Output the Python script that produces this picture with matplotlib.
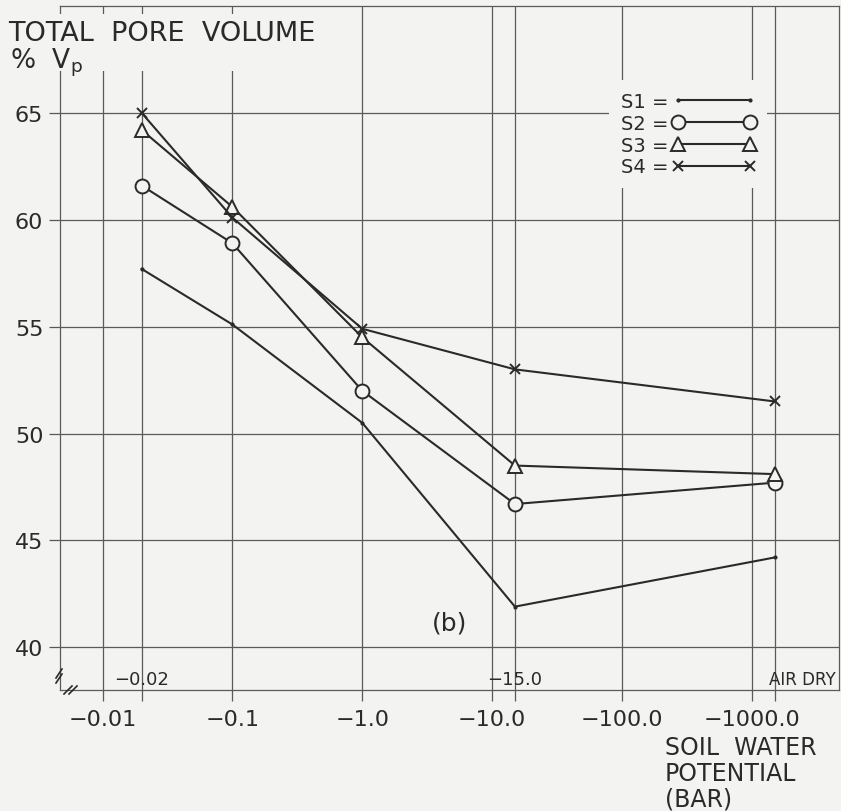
import matplotlib
matplotlib.use("Agg")
import matplotlib.pyplot as plt
from matplotlib.lines import Line2D
from matplotlib.patches import Rectangle

# ---- data ----
potential = [0.02, 0.1, 1.0, 15.0, 1500.0]   # |soil water potential| (bar); last = air dry
s1 = [57.7, 55.1, 50.5, 41.9, 44.2]
s2 = [61.6, 58.9, 52.0, 46.7, 47.7]
s3 = [64.2, 60.6, 54.5, 48.5, 48.1]
s4 = [65.0, 60.1, 54.9, 53.0, 51.5]
series_labels = ["S1 =", "S2 =", "S3 =", "S4 ="]
major_x = [0.01, 0.1, 1.0, 10.0, 100.0, 1000.0]
major_x_labels = ["\u22120.01", "\u22120.1", "\u22121.0", "\u221210.0", "\u2212100.0", "\u22121000.0"]
y_ticks = [40, 45, 50, 55, 60, 65]

BG = "#f3f3f1"
INK = "#2a2a2a"
GRID = "#5a5a5a"

plt.rcParams['font.family'] = ['DejaVu Sans']
W, H = 841, 812
fig = plt.figure(figsize=(W / 100, H / 100), dpi=100, facecolor=BG)
ax = fig.add_axes([60 / W, 1 - 691 / H, (839 - 60) / W, (691 - 7) / H])
ax.set_facecolor(BG)

ax.set_xscale('log')
ax.set_xlim(0.0047, 4700)
ax.set_ylim(38.0, 70.0)

ax.set_xticks(major_x)
ax.set_xticklabels(major_x_labels)
ax.set_xticks([potential[0], potential[3], potential[4]], minor=True)
ax.set_xticklabels([], minor=True)
ax.set_yticks(y_ticks)
ax.set_yticklabels([str(v) for v in y_ticks])

ax.tick_params(axis='both', which='both', direction='out', length=8, width=0.9,
               color=GRID, labelcolor=INK, labelsize=16)
ax.tick_params(axis='x', pad=6)
ax.tick_params(axis='y', pad=4)
ax.grid(True, which='both', color=GRID, lw=0.9)
ax.set_axisbelow(True)
for sp in ax.spines.values():
    sp.set_color(GRID)
    sp.set_linewidth(0.9)

lw = 1.5
ax.plot(potential, s1, color=INK, lw=lw, marker='.', ms=4, label=series_labels[0], zorder=3)
ax.plot(potential, s2, color=INK, lw=lw, marker='o', ms=10, mfc=BG, mec=INK, mew=1.4,
        label=series_labels[1], zorder=4)
ax.plot(potential, s3, color=INK, lw=lw, marker='^', ms=10, mfc=BG, mec=INK, mew=1.4,
        label=series_labels[2], zorder=4)
ax.plot(potential, s4, color=INK, lw=lw, marker='x', ms=7, mec=INK, mew=1.4,
        label=series_labels[3], zorder=4)

leg = ax.legend(loc='upper left', bbox_to_anchor=(609 / W, 1 - 81 / H),
                bbox_transform=fig.transFigure, numpoints=2, markerfirst=False,
                handlelength=4.3, handletextpad=0.2, labelspacing=0.15,
                fontsize=14, frameon=True, fancybox=False, borderpad=0.6,
                borderaxespad=0)
leg.get_frame().set_facecolor(BG)
leg.get_frame().set_edgecolor('none')
leg.get_frame().set_alpha(1)
for t in leg.get_texts():
    t.set_color(INK)

# inner labels
ax.text(potential[0], 38.5, "\u22120.02", ha='center', va='center', fontsize=13, color=INK)
ax.text(potential[3], 38.5, "\u221215.0", ha='center', va='center', fontsize=13, color=INK)
ax.text(0.996, 38.5, "AIR DRY", transform=ax.get_yaxis_transform(), ha='right', va='center',
        fontsize=12, color=INK)

fig.text(432 / W, 1 - 623 / H, "(b)", ha='left', va='center', fontsize=18, color=INK)

# blank area behind the y-axis title
fig.add_artist(Rectangle((0, 1 - 72 / H), 336 / W, 57 / H, transform=fig.transFigure,
                         facecolor=BG, edgecolor='none', zorder=5))
fig.text(8 / W, 1 - 34 / H, "TOTAL  PORE  VOLUME", ha='left', va='center', fontsize=19.5,
         color=INK, zorder=6)
fig.text(10 / W, 1 - 63 / H, "%  V$_\\mathregular{p}$", ha='left', va='center', fontsize=19,
         color=INK, zorder=6)

fig.text(665 / W, 1 - 774 / H, "SOIL  WATER\nPOTENTIAL\n(BAR)", ha='left', va='center',
         fontsize=17, color=INK, linespacing=1.08)

# axis break marks at lower-left corner
def px(x, y):
    return x / W, 1 - y / H
for (x0, y0, x1, y1) in [(56, 679, 62, 670), (56, 684, 62, 675), (64, 695, 72, 687), (69, 695, 77, 687)]:
    a, b = px(x0, y0)
    c, d = px(x1, y1)
    fig.add_artist(Line2D([a, c], [b, d], transform=fig.transFigure, color=INK, lw=1.2))

fig.savefig("out.png", dpi=100, facecolor=BG)
